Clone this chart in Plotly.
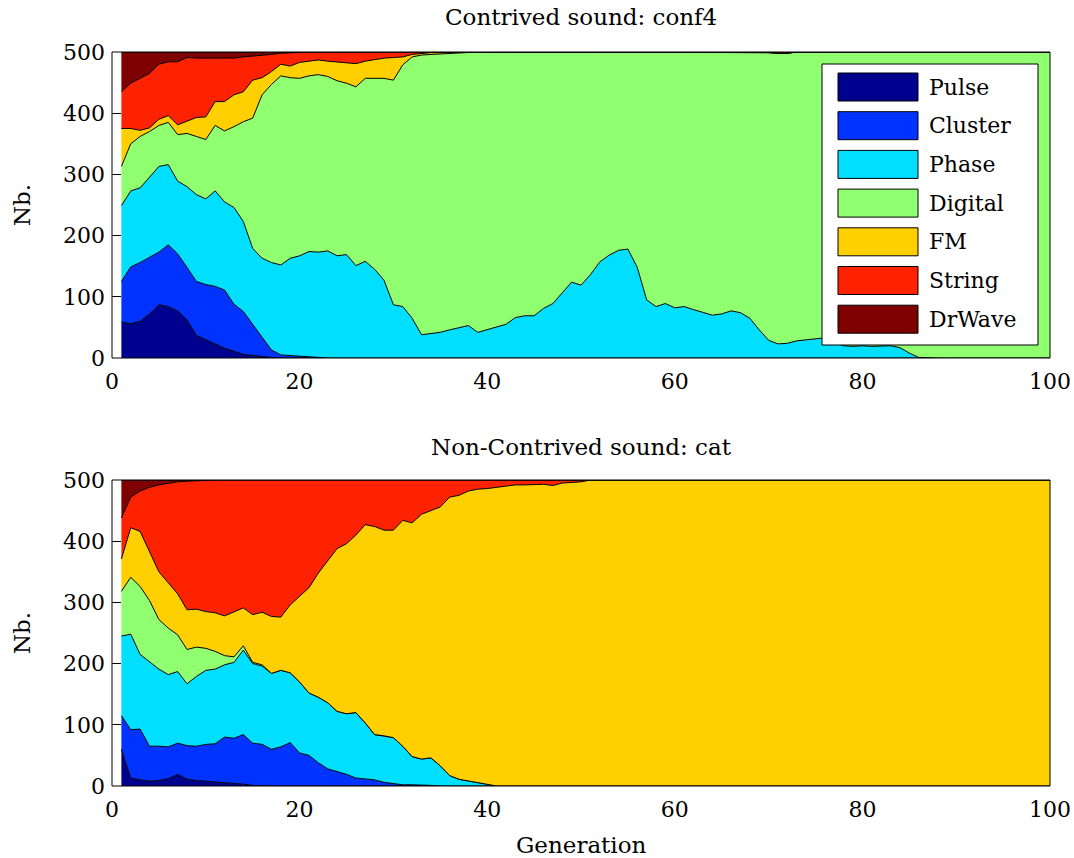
import plotly.graph_objects as go
from plotly.subplots import make_subplots

generations = list(range(1, 101))
classes = ["Pulse", "Cluster", "Phase", "Digital", "FM", "String", "DrWave"]
colors = ["#00008f", "#0033ff", "#00dfff", "#90ff70", "#ffcf00", "#ff2200", "#7f0000"]

# ---- Contrived sound: conf4 (individuals per class, generations 1..100) ----
conf4_pulse = [59, 56, 60, 72, 87, 84, 77, 62, 37, 30, 22, 16, 11, 6, 4, 2, 1, 0, 0, 0,
               0, 0, 0, 0, 0, 0, 0, 0, 0, 0, 0, 0, 0, 0, 0, 0, 0, 0, 0, 0,
               0, 0, 0, 0, 0, 0, 0, 0, 0, 0, 0, 0, 0, 0, 0, 0, 0, 0, 0, 0,
               0, 0, 0, 0, 0, 0, 0, 0, 0, 0, 0, 0, 0, 0, 0, 0, 0, 0, 0, 0,
               0, 0, 0, 0, 0, 0, 0, 0, 0, 0, 0, 0, 0, 0, 0, 0, 0, 0, 0, 0]
conf4_cluster = [66, 93, 96, 92, 86, 101, 93, 86, 88, 90, 95, 95, 77, 70, 51, 31, 12, 5, 4, 2,
                 1, 0, 0, 0, 0, 0, 0, 0, 0, 0, 0, 0, 0, 0, 0, 0, 0, 0, 0, 0,
                 0, 0, 0, 0, 0, 0, 0, 0, 0, 0, 0, 0, 0, 0, 0, 0, 0, 0, 0, 0,
                 0, 0, 0, 0, 0, 0, 0, 0, 0, 0, 0, 0, 0, 0, 0, 0, 0, 0, 0, 0,
                 0, 0, 0, 0, 0, 0, 0, 0, 0, 0, 0, 0, 0, 0, 0, 0, 0, 0, 0, 0]
conf4_phase = [124, 124, 122, 131, 140, 131, 119, 132, 142, 140, 156, 144, 158, 147, 124, 130, 143, 147, 159, 165,
               173, 173, 175, 167, 169, 151, 158, 145, 127, 87, 84, 65, 38, 40, 42, 46, 50, 53, 42, 46,
               50, 55, 66, 69, 69, 81, 89, 106, 124, 119, 136, 157, 168, 176, 178, 148, 95, 84, 89, 82,
               84, 79, 74, 70, 72, 77, 74, 65, 46, 29, 23, 24, 28, 30, 32, 33, 25, 20, 19, 20,
               19, 20, 20, 17, 8, 1, 0, 0, 0, 0, 0, 0, 0, 0, 0, 0, 0, 0, 0, 0]
conf4_digital = [64, 77, 84, 75, 67, 69, 76, 87, 95, 97, 107, 116, 132, 163, 213, 267, 291, 309, 295, 290,
                 287, 290, 285, 286, 280, 292, 299, 312, 330, 367, 395, 427, 457, 456, 455, 452, 449, 447, 458, 454,
                 450, 445, 434, 431, 431, 419, 411, 394, 376, 381, 364, 343, 332, 324, 322, 352, 405, 416, 411, 418,
                 416, 421, 426, 430, 428, 423, 426, 434, 453, 470, 475, 474, 472, 470, 468, 467, 475, 480, 481, 480,
                 481, 480, 480, 483, 492, 499, 500, 500, 500, 500, 500, 500, 500, 500, 500, 500, 500, 500, 500, 500]
conf4_fm = [62, 25, 10, 6, 10, 11, 16, 20, 31, 37, 39, 48, 52, 49, 62, 28, 21, 19, 19, 26,
            24, 24, 25, 31, 34, 38, 28, 31, 33, 37, 13, 4, 3, 3, 2, 2, 1, 0, 0, 0,
            0, 0, 0, 0, 0, 0, 0, 0, 0, 0, 0, 0, 0, 0, 0, 0, 0, 0, 0, 0,
            0, 0, 0, 0, 0, 0, 0, 0, 0, 0, 0, 0, 0, 0, 0, 0, 0, 0, 0, 0,
            0, 0, 0, 0, 0, 0, 0, 0, 0, 0, 0, 0, 0, 0, 0, 0, 0, 0, 0, 0]
conf4_string = [60, 74, 85, 89, 90, 88, 103, 104, 97, 96, 70, 71, 60, 57, 39, 37, 28, 18, 22, 16,
                15, 13, 15, 16, 17, 19, 15, 12, 10, 9, 8, 4, 2, 1, 1, 0, 0, 0, 0, 0,
                0, 0, 0, 0, 0, 0, 0, 0, 0, 0, 0, 0, 0, 0, 0, 0, 0, 0, 0, 0,
                0, 0, 0, 0, 0, 0, 0, 0, 0, 0, 0, 0, 0, 0, 0, 0, 0, 0, 0, 0,
                0, 0, 0, 0, 0, 0, 0, 0, 0, 0, 0, 0, 0, 0, 0, 0, 0, 0, 0, 0]
conf4_drwave = [65, 51, 43, 35, 20, 16, 16, 9, 10, 10, 11, 10, 10, 8, 7, 5, 4, 2, 1, 1,
                0, 0, 0, 0, 0, 0, 0, 0, 0, 0, 0, 0, 0, 0, 0, 0, 0, 0, 0, 0,
                0, 0, 0, 0, 0, 0, 0, 0, 0, 0, 0, 0, 0, 0, 0, 0, 0, 0, 0, 0,
                0, 0, 0, 0, 0, 0, 0, 1, 1, 1, 2, 2, 0, 0, 0, 0, 0, 0, 0, 0,
                0, 0, 0, 0, 0, 0, 0, 0, 0, 0, 0, 0, 0, 0, 0, 0, 0, 0, 0, 0]

# ---- Non-Contrived sound: cat ----
cat_pulse = [60, 13, 10, 8, 9, 12, 19, 11, 9, 8, 7, 5, 4, 3, 1, 0, 0, 0, 0, 0,
             0, 0, 0, 0, 0, 0, 0, 0, 0, 0, 0, 0, 0, 0, 0, 0, 0, 0, 0, 0,
             0, 0, 0, 0, 0, 0, 0, 0, 0, 0, 0, 0, 0, 0, 0, 0, 0, 0, 0, 0,
             0, 0, 0, 0, 0, 0, 0, 0, 0, 0, 0, 0, 0, 0, 0, 0, 0, 0, 0, 0,
             0, 0, 0, 0, 0, 0, 0, 0, 0, 0, 0, 0, 0, 0, 0, 0, 0, 0, 0, 0]
cat_cluster = [55, 79, 83, 57, 56, 52, 51, 55, 56, 60, 62, 75, 74, 81, 69, 68, 60, 64, 71, 54,
               50, 38, 28, 24, 19, 13, 11, 10, 6, 4, 2, 2, 2, 1, 0, 0, 0, 0, 0, 0,
               0, 0, 0, 0, 0, 0, 0, 0, 0, 0, 0, 0, 0, 0, 0, 0, 0, 0, 0, 0,
               0, 0, 0, 0, 0, 0, 0, 0, 0, 0, 0, 0, 0, 0, 0, 0, 0, 0, 0, 0,
               0, 0, 0, 0, 0, 0, 0, 0, 0, 0, 0, 0, 0, 0, 0, 0, 0, 0, 0, 0]
cat_phase = [130, 156, 122, 138, 126, 118, 117, 101, 114, 121, 122, 118, 124, 138, 130, 128, 124, 125, 114, 116,
             102, 107, 108, 98, 99, 107, 92, 74, 76, 75, 63, 46, 42, 45, 33, 17, 11, 8, 5, 2,
             0, 0, 0, 0, 0, 0, 0, 0, 0, 0, 0, 0, 0, 0, 0, 0, 0, 0, 0, 0,
             0, 0, 0, 0, 0, 0, 0, 0, 0, 0, 0, 0, 0, 0, 0, 0, 0, 0, 0, 0,
             0, 0, 0, 0, 0, 0, 0, 0, 0, 0, 0, 0, 0, 0, 0, 0, 0, 0, 0, 0]
cat_digital = [73, 93, 111, 100, 81, 76, 60, 56, 48, 36, 29, 15, 9, 7, 2, 2, 0, 0, 0, 0,
               0, 0, 0, 0, 0, 0, 0, 0, 0, 0, 0, 0, 0, 0, 0, 0, 0, 0, 0, 0,
               0, 0, 0, 0, 0, 0, 0, 0, 0, 0, 0, 0, 0, 0, 0, 0, 0, 0, 0, 0,
               0, 0, 0, 0, 0, 0, 0, 0, 0, 0, 0, 0, 0, 0, 0, 0, 0, 0, 0, 0,
               0, 0, 0, 0, 0, 0, 0, 0, 0, 0, 0, 0, 0, 0, 0, 0, 0, 0, 0, 0]
cat_fm = [53, 81, 90, 80, 78, 74, 67, 65, 62, 60, 63, 65, 73, 62, 78, 86, 93, 87, 111, 140,
          172, 203, 233, 266, 278, 290, 324, 340, 336, 339, 369, 382, 400, 404, 423, 455, 464, 474, 480, 484,
          488, 489, 492, 492, 493, 493, 491, 495, 496, 497, 500, 500, 500, 500, 500, 500, 500, 500, 500, 500,
          500, 500, 500, 500, 500, 500, 500, 500, 500, 500, 500, 500, 500, 500, 500, 500, 500, 500, 500, 500,
          500, 500, 500, 500, 500, 500, 500, 500, 500, 500, 500, 500, 500, 500, 500, 500, 500, 500, 500, 500]
cat_string = [67, 50, 66, 105, 142, 163, 183, 210, 210, 215, 217, 222, 216, 209, 220, 216, 223, 224, 204, 190,
              176, 152, 131, 112, 104, 90, 73, 76, 82, 82, 66, 70, 56, 50, 44, 28, 25, 18, 15, 14,
              12, 11, 8, 8, 7, 7, 9, 5, 4, 3, 0, 0, 0, 0, 0, 0, 0, 0, 0, 0,
              0, 0, 0, 0, 0, 0, 0, 0, 0, 0, 0, 0, 0, 0, 0, 0, 0, 0, 0, 0,
              0, 0, 0, 0, 0, 0, 0, 0, 0, 0, 0, 0, 0, 0, 0, 0, 0, 0, 0, 0]
cat_drwave = [62, 28, 18, 12, 8, 5, 3, 2, 1, 0, 0, 0, 0, 0, 0, 0, 0, 0, 0, 0,
              0, 0, 0, 0, 0, 0, 0, 0, 0, 0, 0, 0, 0, 0, 0, 0, 0, 0, 0, 0,
              0, 0, 0, 0, 0, 0, 0, 0, 0, 0, 0, 0, 0, 0, 0, 0, 0, 0, 0, 0,
              0, 0, 0, 0, 0, 0, 0, 0, 0, 0, 0, 0, 0, 0, 0, 0, 0, 0, 0, 0,
              0, 0, 0, 0, 0, 0, 0, 0, 0, 0, 0, 0, 0, 0, 0, 0, 0, 0, 0, 0]

panels = [
    ("Contrived sound: conf4", [conf4_pulse, conf4_cluster, conf4_phase, conf4_digital,
                                conf4_fm, conf4_string, conf4_drwave]),
    ("Non-Contrived sound: cat", [cat_pulse, cat_cluster, cat_phase, cat_digital,
                                  cat_fm, cat_string, cat_drwave]),
]

FONT = "'DejaVu Serif', 'Liberation Serif', serif"
FS = 22
FS_TITLE = 23
W, H = 1074, 858
ML, MR, MT, MB = 112, 24, 52, 72
PW, PH = W - ML - MR, H - MT - MB

def py2paper(py):
    return 1 - (py - MT) / PH

fig = make_subplots(rows=2, cols=1, vertical_spacing=0.0)
# plot rows: top 52..358 px, bottom 480..786 px
fig.update_layout(
    yaxis=dict(domain=[py2paper(358), 1.0]),
    yaxis2=dict(domain=[0.0, py2paper(480)]),
)

for r, (title, series) in enumerate(panels, start=1):
    for name, vals, col in zip(classes, series, colors):
        fig.add_trace(go.Scatter(
            x=generations, y=vals, name=name, mode="lines",
            stackgroup=f"s{r}", line=dict(color="black", width=1),
            fillcolor=col, showlegend=False,
        ), row=r, col=1)

axis_common = dict(
    ticks="inside", ticklen=9, tickwidth=1, tickcolor="black",
    showgrid=False, zeroline=False, showline=False,
    layer="below traces", automargin=False,
    tickfont=dict(family=FONT, size=FS, color="black"),
)
for r in (1, 2):
    fig.update_xaxes(range=[0, 100], tick0=0, dtick=20, ticklabelstandoff=8,
                     row=r, col=1, **axis_common)
    fig.update_yaxes(range=[0, 500], tick0=0, dtick=100, ticklabelstandoff=6,
                     row=r, col=1, **axis_common)

# frames around both panels
for xr, yr in (("x domain", "y domain"), ("x2 domain", "y2 domain")):
    fig.add_shape(type="rect", xref=xr, yref=yr, x0=0, x1=1, y0=0, y1=1,
                  line=dict(color="black", width=1), fillcolor="rgba(0,0,0,0)",
                  layer="above")

annotations = []
# panel titles
for text, py in (("Contrived sound: conf4", 17), ("Non-Contrived sound: cat", 447)):
    annotations.append(dict(text=text, xref="paper", yref="paper", x=0.5, y=py2paper(py),
                            xanchor="center", yanchor="middle", showarrow=False,
                            font=dict(family=FONT, size=FS_TITLE, color="black")))
# y axis labels
for py in (205, 633):
    annotations.append(dict(text="Nb.", xref="paper", yref="paper",
                            x=(22 - ML) / PW, y=py2paper(py), textangle=-90,
                            xanchor="center", yanchor="middle", showarrow=False,
                            font=dict(family=FONT, size=FS_TITLE, color="black")))
annotations.append(dict(text="Generation", xref="paper", yref="paper", x=0.5,
                        y=py2paper(845), xanchor="center", yanchor="middle",
                        showarrow=False, font=dict(family=FONT, size=FS_TITLE, color="black")))

# legend box for the upper panel
def dx(px):
    return (px - ML) / PW

def dy(py):
    return (358 - py) / 306

fig.add_shape(type="rect", xref="x domain", yref="y domain",
              x0=dx(822), x1=dx(1038), y0=dy(345), y1=dy(64),
              line=dict(color="black", width=1), fillcolor="white", layer="above")
for i, (name, col) in enumerate(zip(classes, colors)):
    cy = 87 + 38.7 * i
    fig.add_shape(type="rect", xref="x domain", yref="y domain",
                  x0=dx(838), x1=dx(918), y0=dy(cy + 14), y1=dy(cy - 14),
                  line=dict(color="black", width=1), fillcolor=col, layer="above")
    annotations.append(dict(text=name, xref="x domain", yref="y domain",
                            x=dx(927), y=dy(cy), xanchor="left", yanchor="middle",
                            showarrow=False,
                            font=dict(family=FONT, size=FS, color="black")))

fig.update_layout(
    width=W, height=H,
    margin=dict(l=ML, r=MR, t=MT, b=MB, autoexpand=False),
    paper_bgcolor="white", plot_bgcolor="white",
    showlegend=False,
    annotations=annotations,
)

fig.write_html("out.html")
